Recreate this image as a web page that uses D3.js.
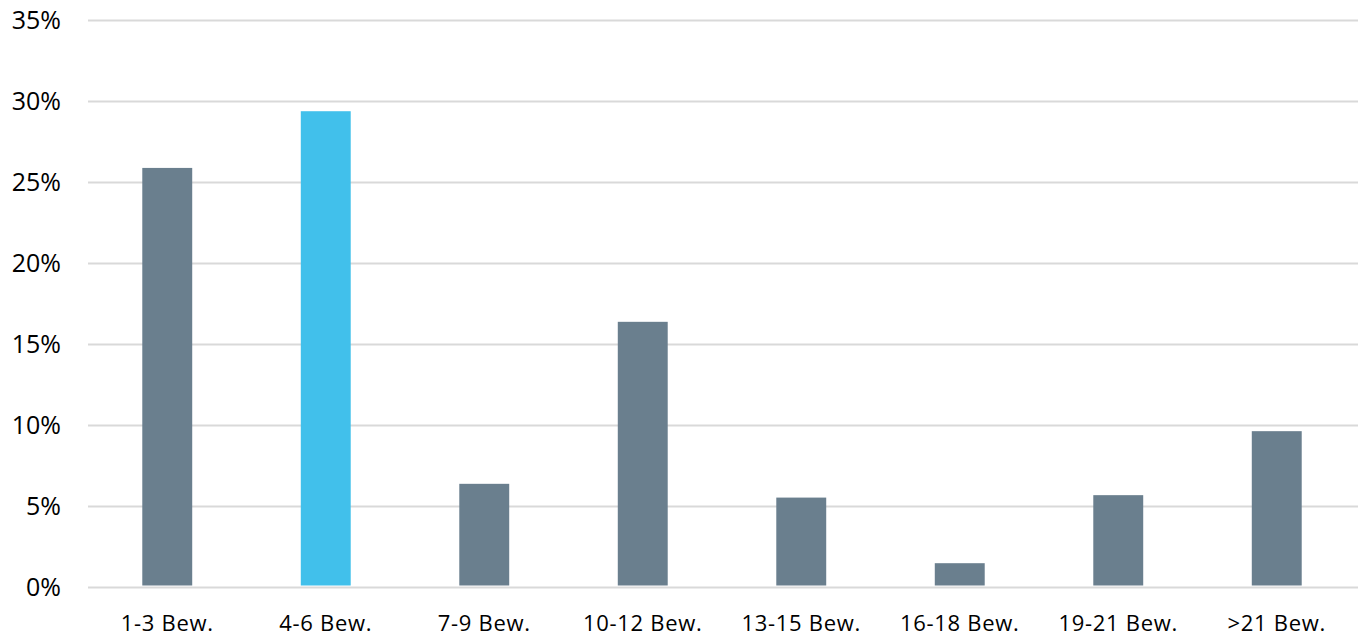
<!DOCTYPE html>
<html><head><meta charset="utf-8">
<script src="https://cdn.jsdelivr.net/npm/d3@7"></script>
<style>body{margin:0;background:#fff}svg{display:block}</style>
</head><body>
<svg id="c" width="1362" height="636"></svg>
<script>
const categories = ["1-3 Bew.","4-6 Bew.","7-9 Bew.","10-12 Bew.","13-15 Bew.","16-18 Bew.","19-21 Bew.",">21 Bew."];
const values = [25.9, 29.4, 6.4, 16.4, 5.55, 1.5, 5.7, 9.65];
const highlight = ["4-6 Bew."];
const yTicks = [0,5,10,15,20,25,30,35];

(function(){
const svg = d3.select("#c");
const mLeft = 88, mRight = 1358, mTop = 20.5, mBottom = 587.5;
const font = "'Open Sans', sans-serif";

const y = d3.scaleLinear().domain([0,35]).range([mBottom, mTop]);
const x = d3.scaleBand().domain(categories).range([mLeft, mLeft + 8*158.5]).paddingInner(0.685).paddingOuter(0.3425);

svg.append("g").selectAll("line").data(yTicks).join("line")
  .attr("x1", mLeft).attr("x2", mRight)
  .attr("y1", d => y(d)).attr("y2", d => y(d))
  .attr("stroke", "#d9d9d9").attr("stroke-width", 2);

svg.append("g").selectAll("text").data(yTicks).join("text")
  .attr("x", 61).attr("y", d => y(d) - 1.5)
  .attr("text-anchor", "end").attr("dominant-baseline", "central")
  .attr("font-family", font).attr("font-size", 25).attr("fill", "#000")
  .text(d => d + "%");

svg.append("g").selectAll("rect").data(categories).join("rect")
  .attr("x", d => x(d)).attr("width", x.bandwidth())
  .attr("y", (d,i) => y(values[i])).attr("height", (d,i) => y(0) - 2 - y(values[i]))
  .attr("fill", d => highlight.includes(d) ? "#41c0eb" : "#6a7f8e");

svg.append("g").selectAll("text").data(categories).join("text")
  .attr("x", d => x(d) + x.bandwidth()/2).attr("y", 631)
  .attr("text-anchor", "middle")
  .attr("font-family", font).attr("font-size", 22).attr("letter-spacing", 0.7).attr("fill", "#000")
  .text(d => d);
})();
</script>
</body></html>
